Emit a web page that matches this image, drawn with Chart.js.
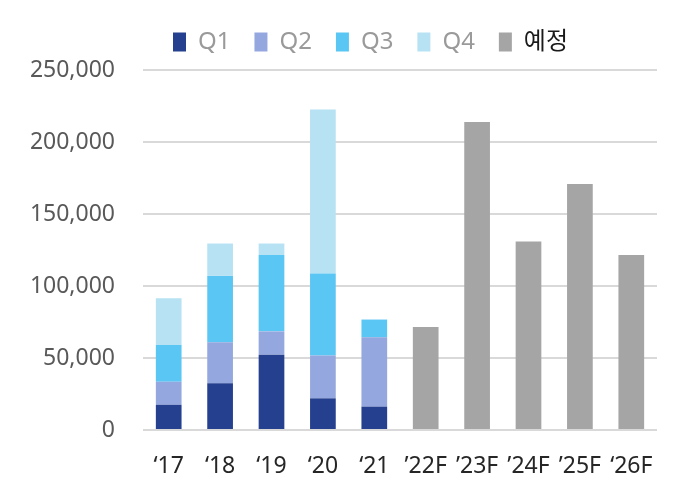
<!DOCTYPE html>
<html lang="ko">
<head>
    <meta charset="UTF-8">
    <title>분기별 실적 및 예정</title>
    <script src="https://cdn.jsdelivr.net/npm/chart.js"></script>
    <style>
        body { margin: 0; background: #ffffff; }
        .box { width: 691px; height: 492px; }
    </style>
</head>
<body>
    <div class="box">
        <canvas id="barChart"></canvas>
    </div>
    <script>
        // 데이터
        const categories = ['\u201817', '\u201818', '\u201819', '\u201820', '\u201821', '\u201922F', '\u201923F', '\u201924F', '\u201925F', '\u201826F'];
        const q1Data = [17500, 32500, 52300, 22000, 16200, null, null, null, null, null];
        const q2Data = [16000, 28500, 16200, 29800, 48200, null, null, null, null, null];
        const q3Data = [25500, 46000, 53000, 56800, 12300, null, null, null, null, null];
        const q4Data = [32500, 22500, 8000, 113900, null, null, null, null, null, null];
        const forecastData = [null, null, null, null, null, 71600, 213900, 130900, 170900, 121500];
        const yTicks = [0, 50000, 100000, 150000, 200000, 250000];

        const fontFamily = "'Noto Sans', 'Noto Sans CJK KR', sans-serif";

        // 범례를 원본 위치로 옮기기
        const legendShift = {
            id: 'legendShift',
            afterLayout(chart) {
                const lg = chart.legend;
                if (!lg) return;
                lg.left += 42;
                lg.right += 42;
                lg.top -= 6;
                lg.bottom -= 6;
            }
        };

        const ctx = document.getElementById('barChart').getContext('2d');
        const barChart = new Chart(ctx, {
            type: 'bar',
            data: {
                labels: categories,
                datasets: [
                    { label: 'Q1', data: q1Data, backgroundColor: '#25408f' },
                    { label: 'Q2', data: q2Data, backgroundColor: '#94a7de' },
                    { label: 'Q3', data: q3Data, backgroundColor: '#5ac6f3' },
                    { label: 'Q4', data: q4Data, backgroundColor: '#b6e2f3' },
                    { label: '예정', data: forecastData, backgroundColor: '#a5a5a5' }
                ]
            },
            plugins: [legendShift],
            options: {
                responsive: true,
                maintainAspectRatio: false,
                animation: false,
                layout: {
                    padding: { top: 12, right: 34, bottom: 0, left: 0 }
                },
                datasets: {
                    bar: { categoryPercentage: 1.0, barPercentage: 0.5 }
                },
                plugins: {
                    tooltip: { enabled: false },
                    legend: {
                        position: 'top',
                        labels: {
                            boxWidth: 13,
                            boxHeight: 19,
                            padding: 24,
                            font: { family: fontFamily, size: 24 },
                            generateLabels: function (chart) {
                                const items = Chart.defaults.plugins.legend.labels.generateLabels(chart);
                                items.forEach(item => {
                                    item.fontColor = item.text === '예정' ? '#1a1a1a' : '#9a9a9a';
                                    item.lineWidth = 0;
                                });
                                return items;
                            }
                        }
                    }
                },
                scales: {
                    x: {
                        stacked: true,
                        grid: { display: false, drawTicks: false },
                        border: { display: false },
                        ticks: {
                            color: '#262626',
                            padding: 23,
                            maxRotation: 0,
                            autoSkip: false,
                            font: { family: fontFamily, size: 23 }
                        },
                        afterFit: function (scale) { scale.height = 62; }
                    },
                    y: {
                        stacked: true,
                        min: 0,
                        max: 250000,
                        afterBuildTicks: function (scale) {
                            scale.ticks = yTicks.map(v => ({ value: v }));
                        },
                        grid: { color: '#d9d9d9', lineWidth: 2, drawTicks: false },
                        border: { display: false },
                        ticks: {
                            color: '#595959',
                            padding: 28,
                            font: { family: fontFamily, size: 23 },
                            callback: function (value) { return value.toLocaleString('en-US'); }
                        },
                        afterFit: function (scale) { scale.width = 143; }
                    }
                }
            }
        });
    </script>
</body>
</html>
